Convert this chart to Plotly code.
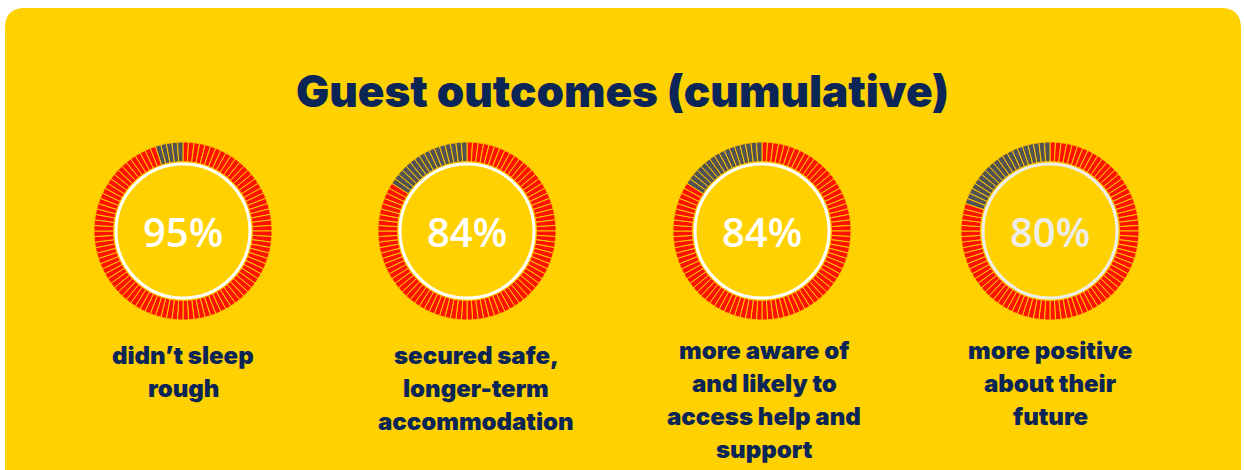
import plotly.graph_objects as go

# Outcome percentages and their captions (one list entry per caption line)
percentages = [95, 84, 84, 80]
captions = [
    ["didn’t sleep", "rough"],
    ["secured safe,", "longer-term", "accommodation"],
    ["more aware of", "and likely to", "access help and", "support"],
    ["more positive", "about their", "future"],
]
title_text = "Guest outcomes (cumulative)"

# Page / layout constants (pixels)
W, H = 1244, 470
centers_x = [183, 467, 762, 1050]
center_y = 231
outer_r = 89
ring_r = 67
caption_x = [183, 476, 764, 1050]
caption_first_line_y = [355, 355, 350, 350]
line_step = 33

YELLOW = "#FFD100"
RED = "#FF1300"
GREY = "#535353"
NAVY = "#0B2656"
SEGMENTS = 100
HEAVY = "Inter"


def px_x(x):
    return x / W


def px_y(y):
    return 1 - y / H


fig = go.Figure()
shapes = []

# yellow card with rounded top corners
r = 20
x0, x1, y0, y1 = 5, 1241, 8, 520
path = (
    f"M {px_x(x0)},{px_y(y0 + r)} "
    f"Q {px_x(x0)},{px_y(y0)} {px_x(x0 + r)},{px_y(y0)} "
    f"L {px_x(x1 - r)},{px_y(y0)} "
    f"Q {px_x(x1)},{px_y(y0)} {px_x(x1)},{px_y(y0 + r)} "
    f"L {px_x(x1)},{px_y(y1)} L {px_x(x0)},{px_y(y1)} Z"
)
shapes.append(dict(type="path", xref="paper", yref="paper", path=path,
                   fillcolor=YELLOW, line=dict(width=0), layer="below"))

annotations = []
for i, (pct, lines) in enumerate(zip(percentages, captions)):
    cx = centers_x[i]
    colors = [RED] * pct + [GREY] * (SEGMENTS - pct)
    fig.add_trace(go.Pie(
        values=[1] * SEGMENTS,
        marker=dict(colors=colors, line=dict(color="#FFC400", width=1)),
        hole=0.78,
        sort=False,
        direction="clockwise",
        rotation=0,
        textinfo="none",
        hoverinfo="skip",
        showlegend=False,
        domain=dict(x=[px_x(cx - outer_r), px_x(cx + outer_r)],
                    y=[px_y(center_y + outer_r), px_y(center_y - outer_r)]),
    ))
    ring_col = "#EDEDED" if i == 3 else "white"
    shapes.append(dict(type="circle", xref="paper", yref="paper",
                       x0=px_x(cx - ring_r), x1=px_x(cx + ring_r),
                       y0=px_y(center_y + ring_r), y1=px_y(center_y - ring_r),
                       line=dict(color=ring_col, width=3)))
    annotations.append(dict(
        x=px_x(cx), y=px_y(center_y), xref="paper", yref="paper",
        text=f"{pct}%", showarrow=False, xanchor="center", yanchor="middle",
        font=dict(family="Open Sans", size=40, color=ring_col, weight=600),
    ))
    for k, line in enumerate(lines):
        annotations.append(dict(
            x=px_x(caption_x[i]), y=px_y(caption_first_line_y[i] + k * line_step),
            xref="paper", yref="paper",
            text=line, showarrow=False, xanchor="center", yanchor="middle",
            font=dict(family=HEAVY, size=24, color=NAVY, weight=900),
        ))

annotations.append(dict(
    x=0.5, y=px_y(91), xref="paper", yref="paper",
    text=title_text, showarrow=False, xanchor="center", yanchor="middle",
    font=dict(family=HEAVY, size=44, color=NAVY, weight=900),
))

fig.update_layout(
    width=W, height=H,
    margin=dict(l=0, r=0, t=0, b=0),
    paper_bgcolor="white",
    plot_bgcolor="white",
    shapes=shapes,
    annotations=annotations,
    xaxis=dict(visible=False), yaxis=dict(visible=False),
)

fig.write_html("out.html")
